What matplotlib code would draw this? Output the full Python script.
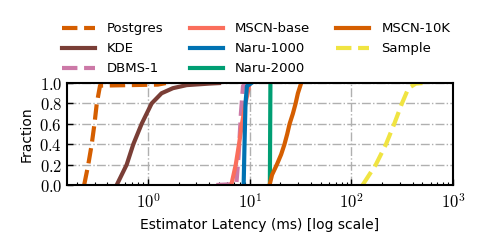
import math
import matplotlib
matplotlib.use("Agg")
import matplotlib.pyplot as plt
from matplotlib.ticker import FixedLocator, FuncFormatter, LogLocator, NullFormatter

plt.rcParams['font.family'] = ['DejaVu Sans']
plt.rcParams['mathtext.fontset'] = 'cm'

# ---- data (CDF points) ----
names = ["Postgres", "KDE", "DBMS-1", "MSCN-base", "Naru-1000", "Naru-2000", "MSCN-10K", "Sample"]

postgres_x = [0.236, 0.259, 0.28, 0.298, 0.314, 0.338, 1.25, 1.5]
postgres_y = [0.0, 0.2, 0.4, 0.6, 0.8, 0.975, 0.985, 1.0]

kde_x = [0.493, 0.618, 0.718, 0.867, 1.087, 1.36, 1.76, 2.4, 4.0, 5.0]
kde_y = [0.0, 0.2, 0.4, 0.6, 0.8, 0.9, 0.95, 0.98, 0.995, 1.0]

dbms_x = [4.7, 7.4, 7.8, 8.2, 8.6, 9.2]
dbms_y = [0.0, 0.01, 0.3, 0.7, 0.97, 1.0]

mscn_base_x = [6.6, 7.3, 7.86, 8.4, 9.1, 10.0]
mscn_base_y = [0.0, 0.2, 0.4, 0.6, 0.8, 1.0]

naru1000_x = [8.73, 8.9, 9.1, 9.4, 10.4]
naru1000_y = [0.0, 0.4, 0.8, 0.97, 1.0]

naru2000_x = [15.8, 15.9, 16.0]
naru2000_y = [0.0, 0.5, 1.0]

mscn10k_x = [15.7, 16.6, 18.5, 20.4, 22.0, 23.4, 24.7, 26.6, 28.3, 29.8, 32.1]
mscn10k_y = [0.0, 0.1, 0.2, 0.3, 0.4, 0.5, 0.6, 0.7, 0.8, 0.9, 1.0]

sample_x = [129, 174, 219, 264, 314, 364, 430, 500]
sample_y = [0.0, 0.2, 0.4, 0.6, 0.8, 0.95, 0.995, 1.0]

y_ticks = [0.0, 0.2, 0.4, 0.6, 0.8, 1.0]
x_ticks = [1, 10, 100, 1000]

series = [
    (postgres_x, postgres_y, "#d55e00", "--"),
    (kde_x, kde_y, "#7a3e36", "-"),
    (dbms_x, dbms_y, "#cc79a7", "--"),
    (mscn_base_x, mscn_base_y, "#fa6e5c", "-"),
    (naru1000_x, naru1000_y, "#0072b2", "-"),
    (naru2000_x, naru2000_y, "#009e73", "-"),
    (mscn10k_x, mscn10k_y, "#d55e00", "-"),
    (sample_x, sample_y, "#f0e442", "--"),
]

fig = plt.figure(figsize=(4.82, 2.48), dpi=100)
ax = fig.add_axes([0.139, 0.254, 0.801, 0.411])

for (xs, ys, c, ls), name in zip(series, names):
    ax.plot(xs, ys, color=c, linestyle=ls, linewidth=3, label=name)

ax.set_xscale("log")
ax.set_xlim(0.16, 1000)
ax.set_ylim(0, 1)

ax.xaxis.set_major_locator(FixedLocator(x_ticks))
ax.xaxis.set_major_formatter(FuncFormatter(lambda v, p: r"$10^{%d}$" % round(math.log10(v))))
ax.xaxis.set_minor_locator(LogLocator(base=10, subs=range(2, 10), numticks=20))
ax.xaxis.set_minor_formatter(NullFormatter())
ax.yaxis.set_major_locator(FixedLocator(y_ticks))
ax.yaxis.set_major_formatter(FuncFormatter(lambda v, p: r"$%.1f$" % v))

ax.tick_params(axis="both", which="major", direction="in", length=4, width=1, labelsize=12)
ax.tick_params(axis="x", which="minor", direction="in", length=2.5, width=0.8)
ax.tick_params(axis="x", which="major", pad=6)

ax.grid(True, which="major", linestyle="-.", color="#b0b0b0", linewidth=1)
ax.set_axisbelow(True)
for s in ax.spines.values():
    s.set_linewidth(1.5)

ax.set_ylabel("Fraction", fontsize=10)
ax.set_xlabel("Estimator Latency (ms) [log scale]", fontsize=10)

ax.legend(loc="lower center", bbox_to_anchor=(0.49, 1.0), ncol=3, frameon=False,
          fontsize=9.5, handlelength=2.5, handletextpad=0.9, columnspacing=2.0,
          labelspacing=0.52, borderaxespad=0.2)

fig.savefig("out.png", dpi=100)
